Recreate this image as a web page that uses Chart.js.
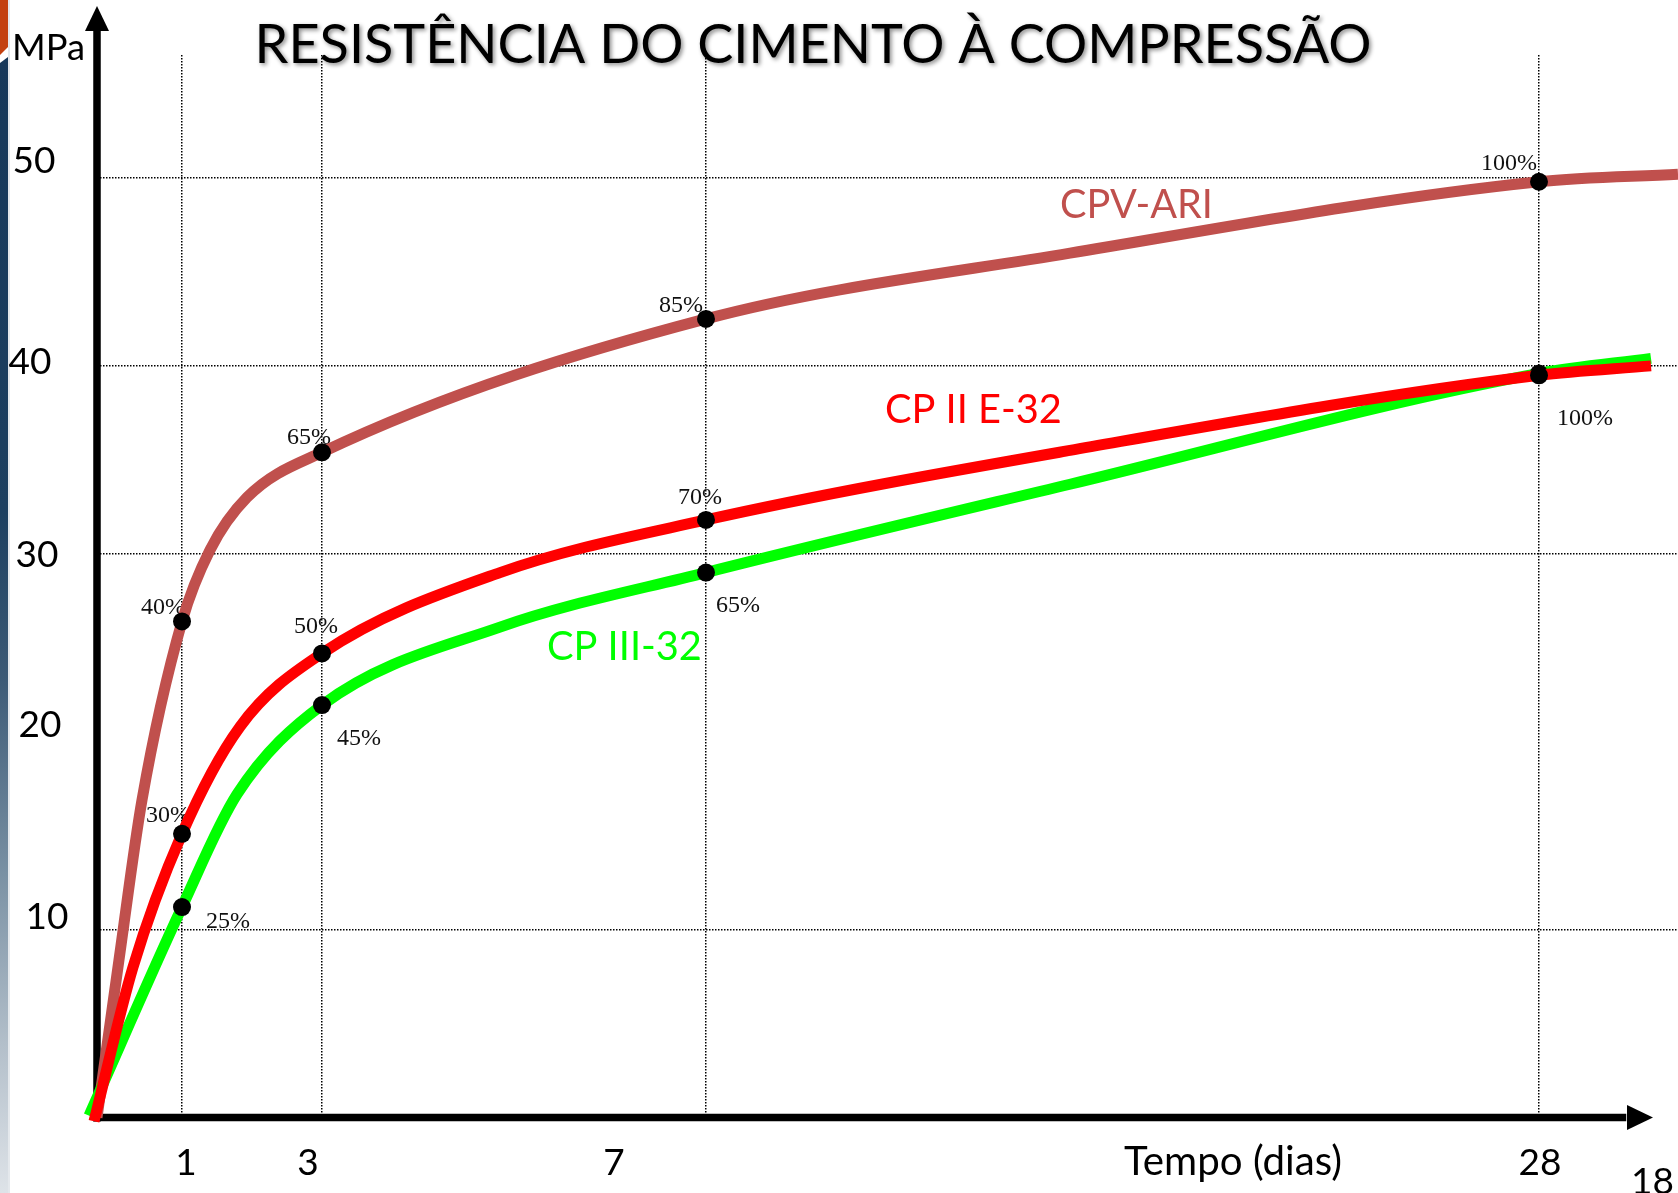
<!DOCTYPE html>
<html lang="pt">
<head>
<meta charset="utf-8">
<title>Resistência do cimento à compressão</title>
<script src="https://cdn.jsdelivr.net/npm/chart.js@4.4.1/dist/chart.umd.min.js"></script>
<style>
  html, body { margin: 0; padding: 0; background: #fff; }
  #quadro { width: 1678px; height: 1193px; position: relative; }
</style>
</head>
<body>
<div id="quadro"><canvas id="resistencia"></canvas></div>
<script>
// idades (dias) e a posição de cada uma no eixo do esquema (o eixo não está em escala)
const dias = ['1', '3', '7', '28'];
const posicaoDias = [8.5, 22.5, 60.9, 144.2];

// eixo vertical (MPa)
const valoresY = [10, 20, 30, 40, 50];
const linhasY = [10, 30, 40, 50];

// curvas
const cpvX = [0, 2.2, 4.5, 8.5, 11.3, 15, 22.5, 60.9, 97.3, 144.2, 158.1];
const cpvY = [0, 8.4, 16.9, 26.4, 30.2, 33.0, 35.4, 42.5, 46.0, 49.8, 50.2];

const cp2X = [-0.3, 3.6, 8.5, 14.3, 22.5, 40.3, 60.9, 97.3, 144.2, 155.4];
const cp2Y = [-0.2, 8.0, 15.1, 20.8, 24.7, 29.0, 31.8, 35.5, 39.5, 40.0];

const cp3X = [-0.8, 8.5, 14.0, 22.5, 40.3, 60.9, 97.3, 144.2, 155.4];
const cp3Y = [0.1, 11.2, 17.2, 21.95, 26.1, 29.0, 33.7, 39.6, 40.4];

// percentuais da resistência aos 28 dias
const pctCPV = ['40%', '65%', '85%', '100%'];
const pctCP2 = ['30%', '50%', '70%', '100%'];
const pctCP3 = ['25%', '45%', '65%', ''];

const titulo = 'RESISTÊNCIA DO CIMENTO À COMPRESSÃO';

const pares = (xs, ys) => xs.map((x, i) => ({ x, y: ys[i] }));
const raioPonto = (ctx) => (ctx.raw && posicaoDias.includes(ctx.raw.x) ? 9 : 0);

function tamanhoPara(ctx, texto, largura, familia) {
  ctx.font = `100px ${familia}`;
  return (100 * largura) / ctx.measureText(texto).width;
}

const series = [
  { nome: 'CP II E-32', cor: '#ff0000', xs: cp2X, ys: cp2Y, pct: pctCP2 },
  { nome: 'CP III-32', cor: '#00ff00', xs: cp3X, ys: cp3Y, pct: pctCP3 },
  { nome: 'CPV-ARI', cor: '#c0504d', xs: cpvX, ys: cpvY, pct: pctCPV },
];

const desenho = {
  id: 'desenho',
  beforeDraw(chart) {
    const { ctx } = chart;
    ctx.save();
    // faixa lateral do slide
    ctx.fillStyle = '#c3400f';
    ctx.beginPath();
    ctx.moveTo(0, 0); ctx.lineTo(8, 0); ctx.lineTo(8, 47); ctx.lineTo(0, 55);
    ctx.closePath(); ctx.fill();
    const g = ctx.createLinearGradient(0, 57, 0, 1193);
    g.addColorStop(0, '#16385a');
    g.addColorStop(0.4, '#1c3f60');
    g.addColorStop(0.55, '#3d5b77');
    g.addColorStop(0.72, '#7a91a4');
    g.addColorStop(0.87, '#b3bfca');
    g.addColorStop(1, '#dee3e8');
    ctx.fillStyle = g;
    ctx.beginPath();
    ctx.moveTo(0, 63); ctx.lineTo(8, 57); ctx.lineTo(8, 1193); ctx.lineTo(0, 1193);
    ctx.closePath(); ctx.fill();
    ctx.fillStyle = '#e4e8ec';
    ctx.fillRect(8, 0, 2, 1193);
    ctx.restore();
  },
  beforeDatasetsDraw(chart, args, opts) {
    const { ctx } = chart;
    const sx = chart.scales.x;
    const sy = chart.scales.y;
    const x0 = sx.getPixelForValue(0);
    const y0 = sy.getPixelForValue(0);
    ctx.save();

    // eixos com setas
    ctx.fillStyle = '#000';
    ctx.fillRect(x0 - 3.75, 28, 7.5, y0 - 28 + 4);
    ctx.beginPath();
    ctx.moveTo(x0, 6); ctx.lineTo(x0 + 12, 31); ctx.lineTo(x0 - 12, 31);
    ctx.closePath(); ctx.fill();
    ctx.fillRect(x0 - 3.75, y0 - 3.75, 1630 - x0, 7.5);
    ctx.beginPath();
    ctx.moveTo(1653, y0); ctx.lineTo(1627, y0 - 12.5); ctx.lineTo(1627, y0 + 12.5);
    ctx.closePath(); ctx.fill();

    // textos do eixo vertical
    ctx.fillStyle = '#000';
    ctx.textBaseline = 'alphabetic';
    ctx.font = `${tamanhoPara(ctx, 'MPa', 73, 'Lato')}px Lato`;
    ctx.textAlign = 'left';
    ctx.fillText('MPa', 12, 60);
    ctx.font = '37px Lato';
    ctx.textAlign = 'center';
    valoresY.forEach((v, i) => {
      const [cx, dy] = opts.rotulosY[i];
      ctx.fillText(String(v), cx, sy.getPixelForValue(v) + dy + 13.5);
    });

    // textos do eixo horizontal
    dias.forEach((d, i) => {
      ctx.fillText(d, sx.getPixelForValue(posicaoDias[i]) + opts.deslocDias[i], 1175);
    });
    ctx.textAlign = 'left';
    ctx.font = `${tamanhoPara(ctx, 'Tempo (dias)', 218, 'Lato')}px Lato`;
    ctx.fillText('Tempo (dias)', 1124, 1175);
    ctx.font = '37px Lato';
    ctx.fillText('18', 1631, 1194);

    // nomes das curvas
    series.forEach((s, k) => {
      const [esq, base, larg] = opts.nomes[k];
      ctx.fillStyle = s.cor;
      ctx.font = `${tamanhoPara(ctx, s.nome, larg, 'Lato')}px Lato`;
      ctx.fillText(s.nome, esq, base);
    });

    // percentuais
    ctx.fillStyle = '#111';
    ctx.font = '24px "Liberation Serif"';
    ctx.textAlign = 'center';
    series.forEach((s, k) => {
      s.pct.forEach((p, i) => {
        if (!p) return;
        const pos = posicaoDias[i];
        const yv = s.ys[s.xs.indexOf(pos)];
        const [dx, dy] = opts.pct[k][i];
        ctx.fillText(p, sx.getPixelForValue(pos) + dx, sy.getPixelForValue(yv) + dy + 8);
      });
    });

    // título com sombra
    ctx.fillStyle = '#000';
    ctx.shadowColor = 'rgba(0,0,0,0.45)';
    ctx.shadowOffsetX = 2;
    ctx.shadowOffsetY = 2;
    ctx.shadowBlur = 4;
    ctx.font = `${tamanhoPara(ctx, titulo, 1117, 'Lato')}px Lato`;
    ctx.fillText(titulo, 813, 63);
    ctx.restore();
  },
};

const data = {
  datasets: series.map((s) => ({
    label: s.nome,
    data: pares(s.xs, s.ys),
    borderColor: s.cor,
    backgroundColor: s.cor,
    borderWidth: 11,
    borderCapStyle: 'butt',
    cubicInterpolationMode: 'monotone',
    pointRadius: raioPonto,
    pointBackgroundColor: '#000',
    pointBorderWidth: 0,
    fill: false,
    clip: false,
  })),
};

const grade = {
  color: '#000',
  lineWidth: 1.5,
  drawTicks: false,
};

const options = {
  responsive: true,
  maintainAspectRatio: false,
  animation: false,
  events: [],
  layout: { padding: { left: 97, right: 0, top: 55, bottom: 75.5 } },
  scales: {
    x: {
      type: 'linear',
      min: 0,
      max: 158.1,
      afterBuildTicks: (axis) => { axis.ticks = posicaoDias.map((v) => ({ value: v })); },
      afterFit: (axis) => { axis.height = 0; },
      ticks: { display: false },
      grid: grade,
      border: { display: false, dash: [1.5, 1.5] },
    },
    y: {
      type: 'linear',
      min: 0,
      max: 56.545,
      afterBuildTicks: (axis) => { axis.ticks = linhasY.map((v) => ({ value: v })); },
      afterFit: (axis) => { axis.width = 0; },
      ticks: { display: false },
      grid: grade,
      border: { display: false, dash: [1.5, 1.5] },
    },
  },
  plugins: {
    legend: { display: false },
    tooltip: { enabled: false },
    desenho: {
      rotulosY: [[47, -13.6], [40, -18], [37, 0], [30, -5.3], [34, -18.7]],
      deslocDias: [4, -14, -92, 1],
      nomes: [[885, 423, 177], [547, 660, 155], [1060, 218, 153]],
      pct: [
        [[-14, -20], [-6, -28], [-6, -24], [46, 42]],
        [[46, 13], [37, 32], [32, 31], [0, 0]],
        [[-19, -15], [-13, -16], [-25, -15], [-30, -20]],
      ],
    },
  },
};

new Chart(document.getElementById('resistencia'), { type: 'line', data, options, plugins: [desenho] });
</script>
</body>
</html>
